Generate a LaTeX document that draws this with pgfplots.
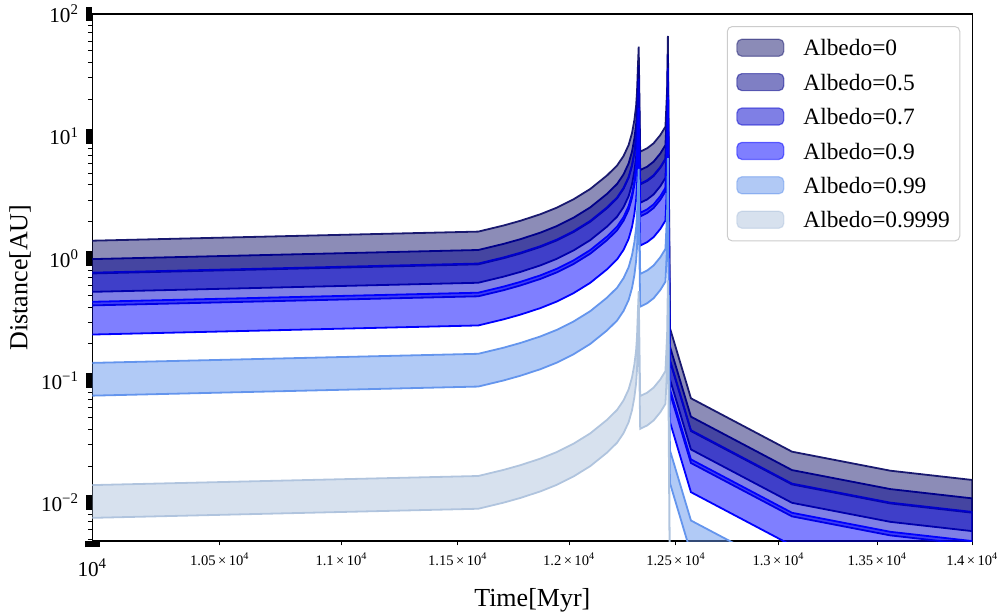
\documentclass[border=0pt]{standalone}
\usepackage{fontspec}
\setmainfont{Liberation Serif}
\usepackage{pgfplots}
\usepackage{pgfplotstable}
\pgfplotsset{compat=1.18}
\definecolor{cA}{HTML}{191970}
\definecolor{cB}{HTML}{00008B}
\definecolor{cC}{HTML}{0000CD}
\definecolor{cD}{HTML}{0000FF}
\definecolor{cE}{HTML}{6495ED}
\definecolor{cF}{HTML}{B0C4DE}
% each band: upper edge forward in time, then lower edge backward
\pgfplotstableread{
t p0 p5 p7 p9 p99 p9999
10000 1.396 0.9871 0.7646 0.4415 0.1396 0.01396
11590 1.657 1.1717 0.9076 0.5240 0.1657 0.01657
11703 1.859 1.3145 1.0182 0.5879 0.1859 0.01859
11778 2.031 1.4361 1.1124 0.6423 0.2031 0.02031
11868 2.296 1.6235 1.2576 0.7261 0.2296 0.02296
11944 2.604 1.8413 1.4263 0.8235 0.2604 0.02604
12020 3.045 2.1531 1.6678 0.9629 0.3045 0.03045
12097 3.698 2.6149 2.0255 1.1694 0.3698 0.03698
12175 4.769 3.3722 2.6121 1.5081 0.4769 0.04769
12222 5.757 4.0708 3.1532 1.8205 0.5757 0.05757
12252 6.886 4.8692 3.7716 2.1776 0.6886 0.06886
12276 8.472 5.9906 4.6403 2.6791 0.8472 0.08472
12292 10.622 7.5109 5.8179 3.3590 1.0622 0.10622
12303 13.569 9.5948 7.4320 4.2909 1.3569 0.13569
12311 17.668 12.493 9.6771 5.5871 1.7668 0.17668
12315.5 22.996 16.261 12.595 7.2720 2.2996 0.22996
12319.7 36.837 26.048 20.176 11.649 3.6837 0.36837
12323.1 54.00 38.184 29.577 17.076 5.400 0.5400
12330 7.467 5.2800 4.0898 2.3613 0.7467 0.07467
12363 7.961 5.6293 4.3604 2.5175 0.7961 0.07961
12394 8.748 6.1858 4.7915 2.7664 0.8748 0.08748
12426 10.229 7.2330 5.6026 3.2347 1.0229 0.10229
12450 11.96 8.4570 6.5507 3.7821 1.196 0.1196
12458 23.88 16.886 13.080 7.5516 2.388 0.2388
12462 66.07 46.719 36.188 20.893 6.607 0.6607
12471 0.2694 0.19050 0.14756 0.085192 0.02694 0.002694
12572 0.07164 0.050657 0.039239 0.022655 0.007164 0.0007164
13067 0.02620 0.018526 0.014350 0.0082852 0.002620 0.000262
13568 0.01831 0.012947 0.010029 0.0057902 0.001831 0.0001831
14000 0.01537 0.010868 0.0084185 0.0048605 0.001537 0.0001537
14000 0.0082921 0.0058634 0.0045418 0.0026222 0.00082921 0.0000829
13568 0.0098782 0.0069850 0.0054105 0.0031238 0.00098782 0.0000988
13067 0.014135 0.0099949 0.0077420 0.0044699 0.0014135 0.00014135
12572 0.038650 0.027330 0.021169 0.012222 0.0038650 0.0003865
12471 0.14534 0.10277 0.079606 0.045961 0.014534 0.0014534
12462 35.645 25.205 19.523 11.272 3.5645 0.35645
12458 12.883 9.1099 7.0564 4.0741 1.2883 0.12883
12450 6.4524 4.5626 3.5341 2.0404 0.64524 0.064524
12426 5.5185 3.9022 3.0226 1.7451 0.55185 0.055185
12394 4.7195 3.3372 2.5850 1.4925 0.47195 0.047195
12363 4.2950 3.0370 2.3524 1.3582 0.42950 0.042950
12330 4.0284 2.8485 2.2065 1.2739 0.40284 0.040284
12323.1 29.133 20.600 15.957 9.2127 2.9133 0.29133
12319.7 19.874 14.053 10.885 6.2846 1.9874 0.19874
12315.5 12.406 8.7727 6.7952 3.9233 1.2406 0.12406
12311 9.5319 6.7401 5.2208 3.0143 0.95319 0.095319
12303 7.3205 5.1764 4.0096 2.3150 0.73205 0.073205
12292 5.7306 4.0521 3.1388 1.8122 0.57306 0.057306
12276 4.5706 3.2319 2.5034 1.4454 0.45706 0.045706
12252 3.7150 2.6269 2.0348 1.1748 0.37150 0.037150
12222 3.1059 2.1962 1.7012 0.9822 0.31059 0.031059
12175 2.5729 1.8193 1.4092 0.8136 0.25729 0.025729
12097 1.9951 1.4107 1.0927 0.6309 0.19951 0.019951
12020 1.6428 1.1616 0.8998 0.5195 0.16428 0.016428
11944 1.4049 0.9934 0.7695 0.4443 0.14049 0.014049
11868 1.2387 0.8759 0.6785 0.3917 0.12387 0.012387
11778 1.0957 0.7748 0.6002 0.3465 0.10957 0.010957
11703 1.0029 0.7092 0.5493 0.3172 0.10029 0.010029
11590 0.8939 0.6321 0.4896 0.2827 0.08939 0.008939
10000 0.7531 0.5326 0.4125 0.2382 0.07531 0.007531
}\poly
\pgfplotsset{
  band/.style={fill=#1, fill opacity=0.5, draw=#1, line width=0.9bp, area legend,
    legend image code/.code={%
      \draw[##1, draw opacity=0.5, line width=0.6bp] (0bp,-4.25bp) rectangle (23.5bp,4.25bp);
      \path (32.3bp,0bp);}},
}
\begin{document}
\begin{tikzpicture}
\useasboundingbox (-46bp,-36bp) rectangle (454.5bp,270.5bp);
\begin{axis}[
  at={(0,0)}, anchor=south west,
  scale only axis, width=440bp, height=263.5bp,
  xmode=log, ymode=log,
  xmin=10000, xmax=14000, ymin=0.004868, ymax=100,
  axis line style={line width=0.6bp},
  tick align=outside, tick pos=left,
  xtick={10000}, xticklabels={10\textsuperscript{4}},
  xticklabel style={yshift=-2bp},
  extra x ticks={10500,11000,11500,12000,12500,13000,13500,14000},
  extra x tick labels={1.05\,×\,10\textsuperscript{4},1.1\,×\,10\textsuperscript{4},1.15\,×\,10\textsuperscript{4},1.2\,×\,10\textsuperscript{4},1.25\,×\,10\textsuperscript{4},1.3\,×\,10\textsuperscript{4},1.35\,×\,10\textsuperscript{4},1.4\,×\,10\textsuperscript{4}},
  extra x tick style={major tick length=2.2bp, major tick style={line width=0.45bp, black},
    xticklabel style={yshift=2bp, font=\fontsize{7.3bp}{8bp}\selectfont}},
  ytick={0.01,0.1,1,10,100},
  yticklabels={10\textsuperscript{−2},10\textsuperscript{−1},10\textsuperscript{0},10\textsuperscript{1},10\textsuperscript{2}},
  minor ytick={0.005,0.006,0.007,0.008,0.009,0.02,0.03,0.04,0.05,0.06,0.07,0.08,0.09,0.2,0.3,0.4,0.5,0.6,0.7,0.8,0.9,2,3,4,5,6,7,8,9,20,30,40,50,60,70,80,90},
  major tick length=3.2bp, minor tick length=2.3bp,
  major tick style={line width=7.3bp, black},
  minor tick style={line width=0.45bp, black},
  tick label style={font=\fontsize{10.6bp}{12bp}\selectfont},
  xlabel={Time[Myr]}, ylabel={Distance[AU]},
  label style={font=\fontsize{13bp}{15bp}\selectfont},
  xlabel style={at={(axis description cs:0.5,-0.1252)}, anchor=base},
  ylabel style={at={(axis description cs:-0.0693,0.5)}, anchor=south, inner sep=0pt},
  legend cell align=left,
  legend style={at={(1,1)}, anchor=north east, xshift=-6bp, yshift=-6bp,
    font=\fontsize{11.7bp}{14bp}\selectfont, draw=black!20, line width=0.5bp,
    rounded corners=2.5bp, fill=white, inner xsep=4.5bp, inner ysep=6bp,
    row sep=8bp, nodes={inner sep=0.5bp, text height=8.2bp, text depth=0bp}},
]
\addplot[band=cA] table[x=t, y=p0]{\poly};
\addlegendentry{Albedo=0}
\addplot[band=cB] table[x=t, y=p5]{\poly};
\addlegendentry{Albedo=0.5}
\addplot[band=cC] table[x=t, y=p7]{\poly};
\addlegendentry{Albedo=0.7}
\addplot[band=cD] table[x=t, y=p9]{\poly};
\addlegendentry{Albedo=0.9}
\addplot[band=cE] table[x=t, y=p99]{\poly};
\addlegendentry{Albedo=0.99}
\addplot[band=cF] table[x=t, y=p9999]{\poly};
\addlegendentry{Albedo=0.9999}
\end{axis}
\end{tikzpicture}
\end{document}
